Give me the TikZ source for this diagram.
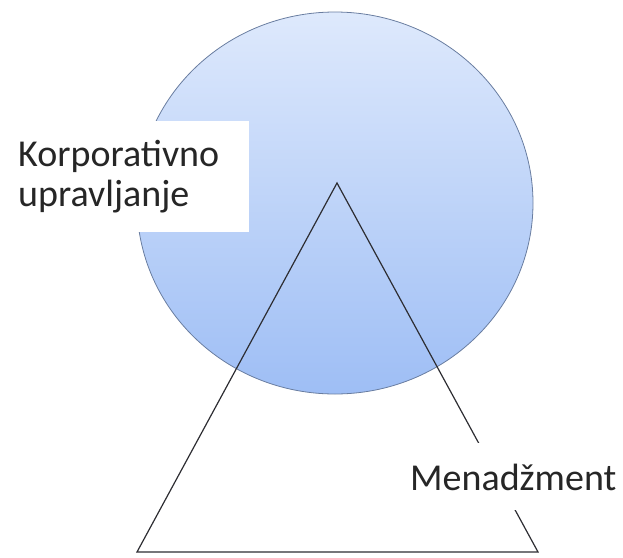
\documentclass[tikz,border=0pt]{standalone}
\usepackage{fontspec}
\setmainfont{Carlito}
\usetikzlibrary{shapes.geometric}
\definecolor{circtop}{RGB}{222,233,252}
\definecolor{circbot}{RGB}{158,190,245}
\definecolor{circline}{RGB}{105,125,160}
\definecolor{triline}{RGB}{45,45,50}

\begin{document}
\begin{tikzpicture}[x=1pt,y=-1pt,
  every node/.style={font=\fontsize{38}{40}\selectfont, text=black!85},
  label box/.style={fill=white, align=left, inner sep=0pt}]
\useasboundingbox (0,0) rectangle (623,557);
\node[ellipse, draw=circline, line width=0.8pt, top color=circtop, bottom color=circbot,
  minimum width=396pt, minimum height=382pt, inner sep=0pt] (gov) at (335,203) {};
\coordinate (apex) at (337,183);
\coordinate (left) at (137,552);
\coordinate (right) at (538,552);
\draw[triline, line width=1.2pt] (apex) -- (left) -- (right) -- cycle;
\node[label box, anchor=north west, minimum width=249pt, minimum height=111pt,
  text width=213pt, inner xsep=18pt] (corp) at (0,121) {Korporativno\\upravljanje};
\node[label box, anchor=base west, inner xsep=10pt, inner ysep=9pt,
  text height=38pt, text depth=11pt] (mgmt) at (400,490) {Menadžment};
\end{tikzpicture}
\end{document}
